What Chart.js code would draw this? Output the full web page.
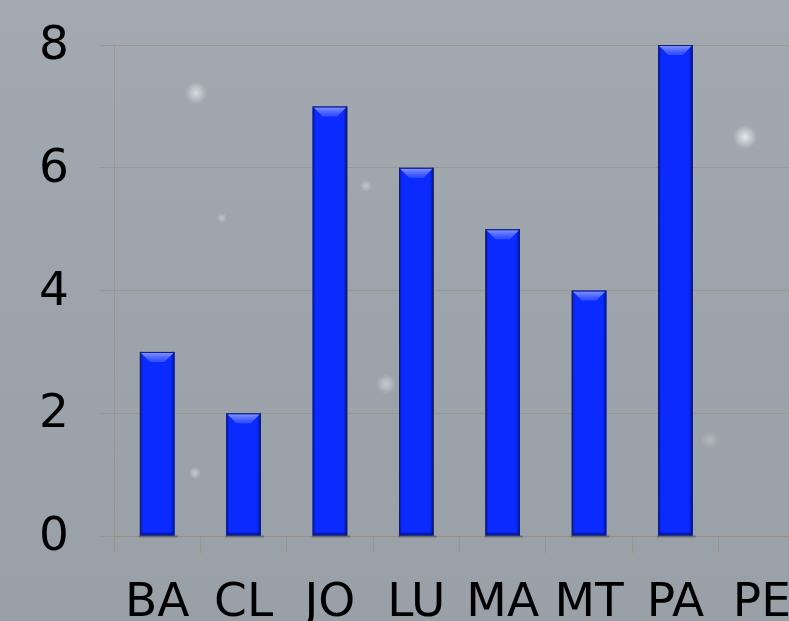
<!DOCTYPE html>
<html>
<head>
<meta charset="utf-8">
<script src="https://cdn.jsdelivr.net/npm/chart.js@4"></script>
<style>
html,body{margin:0;padding:0;width:789px;height:621px;overflow:hidden;}
body{
  background:
    radial-gradient(circle at 196px 93px, rgba(235,238,242,0.7) 0, rgba(235,238,242,0.0) 11px),
    radial-gradient(circle at 745px 137px, rgba(240,242,245,0.85) 0, rgba(240,242,245,0.0) 12px),
    radial-gradient(circle at 386px 384px, rgba(235,238,242,0.55) 0, rgba(235,238,242,0.0) 10px),
    radial-gradient(circle at 195px 473px, rgba(235,238,242,0.55) 0, rgba(235,238,242,0.0) 6px),
    radial-gradient(circle at 366px 186px, rgba(235,238,242,0.45) 0, rgba(235,238,242,0.0) 6px),
    radial-gradient(circle at 222px 218px, rgba(235,238,242,0.45) 0, rgba(235,238,242,0.0) 5px),
    radial-gradient(circle at 710px 440px, rgba(235,238,242,0.3) 0, rgba(235,238,242,0.0) 9px),
    linear-gradient(180deg,#a3a9b0 0%,#9da3aa 55%,#9aa0a7 100%);
}
#wrap{position:absolute;left:0;top:0;width:806px;height:621px;}
</style>
</head>
<body>
<div id="wrap"><canvas id="c" width="806" height="621"></canvas></div>
<script>
const categories = ['BA','CL','JO','LU','MA','MT','PA','PE'];
const values = [3,2,7,6,5,4,8,0];
const yTicks = [0,2,4,6,8];

const gridColor = 'rgba(150,132,112,0.45)';

const bevelPlugin = {
  id: 'bevel',
  afterDatasetsDraw(chart) {
    const ctx = chart.ctx;
    const meta = chart.getDatasetMeta(0);
    meta.data.forEach(bar => {
      const h = bar.base - bar.y;
      if (h < 2) return;
      const l = bar.x - bar.width / 2, r = bar.x + bar.width / 2, t = bar.y, b = bar.base;
      ctx.save();
      ctx.fillStyle = 'rgba(60,62,70,0.45)';
      ctx.fillRect(l - 1, b, r - l + 4, 2);
      let g = ctx.createLinearGradient(r - 4, 0, r, 0);
      g.addColorStop(0, 'rgba(0,20,160,0)');
      g.addColorStop(1, 'rgba(0,14,120,0.9)');
      ctx.fillStyle = g;
      ctx.fillRect(r - 4, t, 4, h);
      g = ctx.createLinearGradient(l, 0, l + 3, 0);
      g.addColorStop(0, 'rgba(0,14,120,0.8)');
      g.addColorStop(1, 'rgba(0,20,160,0)');
      ctx.fillStyle = g;
      ctx.fillRect(l, t, 3, h);
      const bv = 9;
      ctx.beginPath();
      ctx.moveTo(l + 1, t + 1);
      ctx.lineTo(r - 1, t + 1);
      ctx.lineTo(r - 1 - bv, t + 1 + bv);
      ctx.lineTo(l + 1 + bv, t + 1 + bv);
      ctx.closePath();
      g = ctx.createLinearGradient(0, t, 0, t + bv);
      g.addColorStop(0, 'rgba(140,155,255,1)');
      g.addColorStop(1, 'rgba(70,95,255,0.7)');
      ctx.fillStyle = g;
      ctx.fill();
      ctx.fillStyle = 'rgba(0,20,170,0.7)';
      ctx.fillRect(l + 1, b - 3, r - l - 2, 3);
      ctx.strokeStyle = 'rgba(20,30,90,0.85)';
      ctx.lineWidth = 1;
      ctx.strokeRect(l + 0.5, t + 0.5, r - l - 1, h - 1);
      ctx.restore();
    });
  }
};

new Chart(document.getElementById('c'), {
  type: 'bar',
  data: {
    labels: categories,
    datasets: [{
      data: values,
      backgroundColor: '#0a2aff',
      borderWidth: 0,
      barPercentage: 0.4,
      categoryPercentage: 1.0
    }]
  },
  plugins: [bevelPlugin],
  options: {
    responsive: false,
    animation: false,
    devicePixelRatio: 1,
    layout: { autoPadding: false, padding: { top: 45, right: 1, left: 0, bottom: 0 } },
    plugins: { legend: { display: false }, tooltip: { enabled: false } },
    scales: {
      x: {
        offset: true,
        grid: { color: gridColor, tickLength: 17, offset: true, drawOnChartArea: false },
        border: { color: gridColor },
        ticks: { color: '#000', font: { family: 'DejaVu Sans', size: 47 }, padding: 23, maxRotation: 0, autoSkip: false },
        afterFit: s => { s.height = 85; s.paddingLeft = 0; s.paddingRight = 0; }
      },
      y: {
        min: 0, max: 8,
        afterBuildTicks: s => { s.ticks = yTicks.map(v => ({ value: v })); },
        grid: { color: gridColor, tickLength: 15 },
        border: { color: gridColor },
        ticks: { color: '#000', font: { family: 'DejaVu Sans', size: 47 }, padding: 30, labelOffset: 2 },
        afterFit: s => { s.width = 114; s.paddingTop = 0; s.paddingBottom = 0; }
      }
    }
  }
});
</script>
</body>
</html>
